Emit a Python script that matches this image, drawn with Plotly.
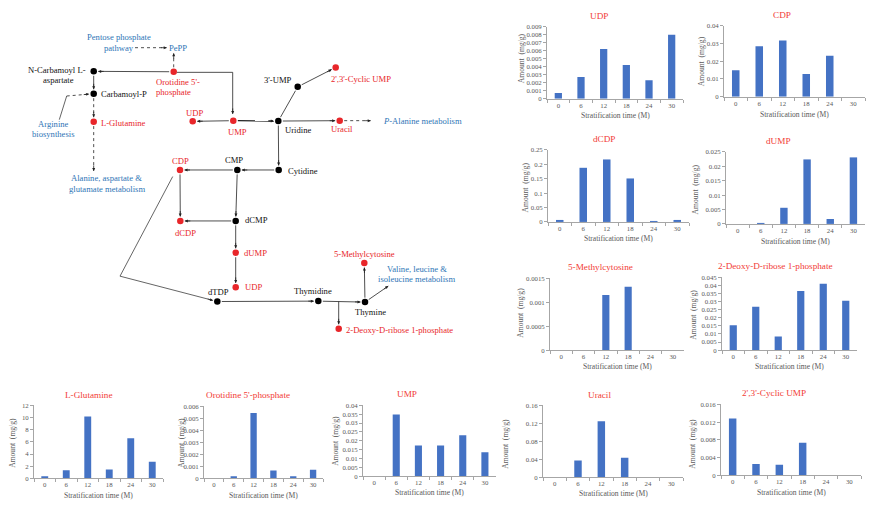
import math
import plotly.graph_objects as go

W, H = 881, 505
FONT = "Liberation Serif"
RED = "#E8262A"
TITLE_RED = "#F23B36"
BLUE = "#2E75B6"
BAR = "#4472C4"
GREY = "#595959"
AXIS = "#A6A6A6"

# ---------------- data ----------------
months = ["0", "6", "12", "18", "24", "30"]

udp = [0.0007, 0.0027, 0.0062, 0.0042, 0.0023, 0.0080]
cdp = [0.0149, 0.0284, 0.0316, 0.0128, 0.0231, 0.0]
dcdp = [0.0057, 0.188, 0.217, 0.151, 0.0023, 0.0057]
dump = [0.0, 0.0003, 0.0056, 0.0224, 0.0017, 0.0231]
methylcytosine = [0.0, 0.0, 0.00115, 0.00132, 0.0, 0.0]
deoxyribose_p = [0.0153, 0.0268, 0.0084, 0.0364, 0.0409, 0.0305]
glutamine = [0.27, 1.31, 10.15, 1.47, 6.6, 2.73]
orotidine_p = [0.0, 0.00011, 0.00544, 0.00066, 0.0001, 0.00072]
ump = [0.0, 0.0349, 0.0174, 0.0174, 0.0231, 0.0136]
uracil = [0.0, 0.0374, 0.1248, 0.0433, 0.0, 0.0]
cyclic_ump = [0.01284, 0.00257, 0.00242, 0.00734, 0.0, 0.0]

ticks_udp = ["0", "0.001", "0.002", "0.003", "0.004", "0.005", "0.006", "0.007", "0.008", "0.009"]
ticks_cdp = ["0", "0.01", "0.02", "0.03", "0.04"]
ticks_dcdp = ["0", "0.05", "0.1", "0.15", "0.2", "0.25"]
ticks_dump = ["0", "0.005", "0.01", "0.015", "0.02", "0.025"]
ticks_methyl = ["0", "0.0005", "0.001", "0.0015"]
ticks_deoxy = ["0", "0.005", "0.01", "0.015", "0.02", "0.025", "0.03", "0.035", "0.04", "0.045"]
ticks_glu = ["0", "2", "4", "6", "8", "10", "12"]
ticks_orot = ["0", "0.001", "0.002", "0.003", "0.004", "0.005", "0.006"]
ticks_ump = ["0", "0.005", "0.01", "0.015", "0.02", "0.025", "0.03", "0.035", "0.04"]
ticks_uracil = ["0", "0.04", "0.08", "0.12", "0.16"]
ticks_cyclic = ["0", "0.004", "0.008", "0.012", "0.016"]

chart_titles = ["UDP", "CDP", "dCDP", "dUMP", "5-Methylcytosine",
                "2-Deoxy-D-ribose 1-phosphate", "L-Glutamine",
                "Orotidine 5'-phosphate", "UMP", "Uracil", "2',3'-Cyclic UMP"]
chart_values = [udp, cdp, dcdp, dump, methylcytosine, deoxyribose_p,
                glutamine, orotidine_p, ump, uracil, cyclic_ump]
chart_ticks = [ticks_udp, ticks_cdp, ticks_dcdp, ticks_dump, ticks_methyl,
               ticks_deoxy, ticks_glu, ticks_orot, ticks_ump, ticks_uracil,
               ticks_cyclic]

# ---------------- layout (pixels) ----------------
# plot box: left, right, top, bottom(zero line)
boxes = [(547, 683, 23, 96), (724, 865, 22, 94), (548, 689, 148, 221),
         (726, 865, 150, 223), (550, 684, 278, 351), (722, 857, 277, 351),
         (34, 163, 407, 481), (204, 323, 408, 481), (363, 496, 407, 479),
         (543, 683, 407, 480), (721, 861, 406, 478)]
title_pos = [(599, 12), (782, 11), (604, 137), (778, 139), (600, 267),
             (775, 266), (88, 397), (248, 397), (407, 395), (599, 397),
             (774, 394)]
ytitle_pos = [(521, 55), (701, 58), (525, 186), (695, 188), (521, 313),
              (694, 315), (13, 445), (182, 445), (336, 443), (506, 446),
              (693, 446)]
xtitle_y = [113, 112, 238, 241, 368, 368, 498, 498, 495, 496, 495]

# ---------------- pathway diagram ----------------
node_names = ["ncarb", "carbp", "lglu", "orot", "udp1", "ump", "urid", "ump3",
              "cyc", "urac", "cytd", "cmp", "cdp", "dcdp", "dcmp", "dump",
              "udp2", "dtdp", "thyd", "thy", "meth", "deoxy"]
node_x = [93.7, 93.7, 93.7, 173.7, 192.7, 233.3, 278.3, 297.7,
          335.7, 339.7, 278.7, 237.3, 180.0, 180.3, 235.7, 235.7,
          235.7, 217.3, 318.3, 365.0, 364.3, 338.7]
node_y = [68.3, 91.0, 119.3, 68.7, 119.0, 118.3, 118.7, 84.0,
          64.3, 118.3, 168.3, 168.3, 168.3, 220.0, 220.0, 252.3,
          287.3, 301.7, 301.3, 302.3, 262.7, 329.3]
node_is_red = [False, False, True, True, True, True, False, False,
               True, True, False, False, True, True, False, True,
               True, False, False, False, True, True]

label_text = ["N-Carbamoyl L-", "aspartate", "Carbamoyl-P", "L-Glutamine",
              "Orotidine 5'-", "phosphate", "PePP", "Pentose phosphate",
              "pathway", "Arginine", "biosynthesis", "Alanine, aspartate &",
              "glutamate metabolism", "UDP", "UMP", "Uridine", "3'-UMP",
              "2',3'-Cyclic UMP", "Uracil", "<i>P</i>-Alanine metabolism",
              "Cytidine", "CMP", "CDP", "dCDP", "dCMP", "dUMP", "UDP", "dTDP",
              "Thymidine", "Thymine", "5-Methylcytosine", "Valine, leucine &",
              "isoleucine metabolism", "2-Deoxy-D-ribose 1-phosphate"]
label_x = [87.5, 58.5, 99, 99, 154, 154, 177.7, 119, 119, 53.3, 53.3, 106.7,
           106.7, 194.7, 237.3, 282.7, 278.3, 329.3, 341.7, 380.7, 285.7, 234,
           180, 185, 242.7, 241.7, 242.7, 218.3, 312.7, 370, 364.3, 416.7,
           416.7, 344.3]
label_y = [67, 77.5, 91, 121, 79, 89.7, 44.3, 33.3, 44.3, 121.7, 132.3,
           176.7, 187.3, 110.7, 130, 127.7, 77, 75.7, 127, 119, 169, 158.3,
           158.7, 232.3, 219.3, 252.7, 287.3, 292.3, 291.3, 312.3, 253.7,
           268.7, 279, 330.3]
label_kind = ["k", "k", "k", "r", "r", "r", "b", "b", "b", "b", "b", "b", "b",
              "r", "r", "k", "k", "r", "r", "b", "k", "k", "r", "r", "k", "r",
              "r", "k", "k", "k", "r", "b", "b", "r"]
label_anchor = ["right", "center", "left", "left", "left", "left", "center",
                "center", "center", "center", "center", "center", "center",
                "center", "center", "left", "center", "left", "center", "left",
                "left", "center", "center", "center", "left", "left", "left",
                "center", "center", "center", "center", "center", "center",
                "left"]

# edges: path (node names or waypoints), dotted, arrow head, line width
edges = [
    ([(135, 44.3), (166.7, 44.3)], True, True, 0.8),
    (["orot", (173.7, 50)], True, True, 0.8),
    (["orot", "ncarb"], False, True, 0.8),
    (["ncarb", "carbp"], False, True, 0.8),
    (["carbp", "lglu"], True, True, 0.8),
    (["lglu", (93.7, 169.3)], True, True, 0.8),
    ([(59.3, 117.3), (66.7, 93.3)], False, False, 0.7),
    ([(66.7, 93.3), "carbp"], True, True, 0.8),
    ([(176.7, 69.3), (232.7, 69.3), (232.7, 111.5)], False, True, 0.8),
    (["ump", "udp1"], False, True, 0.8),
    (["ump", "urid"], False, True, 1.3),
    (["urid", "ump3"], False, False, 0.8),
    (["ump3", "cyc"], False, True, 0.8),
    (["urid", "urac"], False, True, 0.8),
    (["urac", (370.7, 118.3)], True, True, 0.8),
    (["urid", "cytd"], False, True, 0.8),
    (["cytd", "cmp"], False, True, 0.8),
    (["cmp", "cdp"], False, True, 0.8),
    (["cdp", "dcdp"], False, True, 0.8),
    (["cmp", "dcmp"], False, True, 0.8),
    (["dcmp", "dcdp"], False, True, 0.8),
    (["dcmp", "dump"], False, True, 0.8),
    (["dump", "udp2"], False, True, 0.8),
    ([(172.7, 175), (120, 276), "dtdp"], False, True, 0.7),
    (["dtdp", "thyd"], False, True, 0.8),
    (["thyd", "thy"], False, True, 0.8),
    ([(338.7, 301.7), "deoxy"], False, True, 0.8),
    (["thy", "meth"], False, True, 0.8),
    (["thy", (388.3, 286)], False, True, 0.8),
]

GAP = 4.5
colors = {"k": "#111111", "r": RED, "b": BLUE}


def pos(p):
    if isinstance(p, str):
        i = node_names.index(p)
        return (node_x[i], node_y[i])
    return p


def shorten(a, b, g):
    dx, dy = b[0] - a[0], b[1] - a[1]
    d = math.hypot(dx, dy)
    return (a[0] + dx / d * g, a[1] + dy / d * g)


fig = go.Figure()
annotations = []
layout_axes = {}

# ---- bar charts ----
for k in range(len(chart_titles)):
    n = k + 1
    xa, ya = f"x{n}", f"y{n}"
    l, r, t, b = boxes[k]
    fig.add_trace(go.Bar(x=months, y=chart_values[k], xaxis=xa, yaxis=ya,
                         marker=dict(color=BAR, line=dict(width=0)),
                         width=0.32, hoverinfo="x+y"))
    tv = [float(s) for s in chart_ticks[k]]
    layout_axes[f"xaxis{n}"] = dict(
        domain=[l / W, r / W], anchor=ya, type="category",
        categoryorder="array", categoryarray=months, range=[-0.5, 5.5],
        showline=True, linecolor=AXIS, linewidth=0.8, ticks="outside",
        ticklen=3, tickcolor=AXIS, tickwidth=0.8, tickson="boundaries",
        showgrid=False, zeroline=False, fixedrange=True,
        tickfont=dict(family=FONT, size=6.8, color=GREY))
    layout_axes[f"yaxis{n}"] = dict(
        domain=[1 - b / H, 1 - t / H], anchor=xa, range=[0, tv[-1]],
        tickvals=tv, ticktext=chart_ticks[k], showline=True, linecolor=AXIS,
        linewidth=0.8, ticks="outside", ticklen=3, tickcolor=AXIS,
        tickwidth=0.8, showgrid=False, zeroline=False, fixedrange=True,
        tickfont=dict(family=FONT, size=6.8, color=GREY))
    tx, ty = title_pos[k]
    annotations.append(dict(text=chart_titles[k], x=tx / W, y=1 - ty / H,
                            xref="paper", yref="paper", showarrow=False,
                            xanchor="center", yanchor="middle",
                            font=dict(family=FONT, size=9.2, color=TITLE_RED)))
    yx, yy = ytitle_pos[k]
    annotations.append(dict(text="Amount\u00a0\u00a0(mg/g)", x=yx / W,
                            y=1 - yy / H, xref="paper", yref="paper",
                            showarrow=False, textangle=-90, xanchor="center",
                            yanchor="middle",
                            font=dict(family=FONT, size=7.6, color=GREY)))
    annotations.append(dict(text="Stratification time (M)",
                            x=(l + r) / 2 / W, y=1 - xtitle_y[k] / H,
                            xref="paper", yref="paper", showarrow=False,
                            xanchor="center", yanchor="middle",
                            font=dict(family=FONT, size=7.6, color=GREY)))

# ---- pathway diagram (axis in pixel units) ----
DX, DY = 480, 380
layout_axes["xaxis12"] = dict(domain=[0, DX / W], range=[0, DX], visible=False,
                              anchor="y12", fixedrange=True)
layout_axes["yaxis12"] = dict(domain=[1 - DY / H, 1], range=[DY, 0],
                              visible=False, anchor="x12", fixedrange=True)

for path, dotted, head, lw in edges:
    pts = [pos(p) for p in path]
    if isinstance(path[0], str):
        pts[0] = shorten(pts[0], pts[1], GAP)
    if isinstance(path[-1], str):
        pts[-1] = shorten(pts[-1], pts[-2], GAP)
    fig.add_trace(go.Scatter(
        x=[p[0] for p in pts], y=[p[1] for p in pts], xaxis="x12",
        yaxis="y12", mode="lines", hoverinfo="skip", cliponaxis=False,
        line=dict(color="#222222", width=lw, dash="dot" if dotted else "solid")))
    if head:
        tip, prev = pts[-1], pts[-2]
        dx, dy = tip[0] - prev[0], tip[1] - prev[1]
        d = math.hypot(dx, dy)
        L = min(7.0, d)
        annotations.append(dict(
            x=tip[0], y=tip[1], xref="x12", yref="y12", text="",
            showarrow=True, ax=-dx / d * L, ay=-dy / d * L, arrowhead=2,
            arrowsize=0.75 * 0.8 / lw, arrowwidth=lw, arrowcolor="#222222",
            standoff=0, font=dict(size=1)))

fig.add_trace(go.Scatter(
    x=node_x, y=node_y, xaxis="x12", yaxis="y12", mode="markers",
    hovertext=node_names, hoverinfo="text", cliponaxis=False,
    marker=dict(size=6.5, color=[RED if r else "#000000" for r in node_is_red],
                line=dict(width=0))))

for txt, x, y, kind, anc in zip(label_text, label_x, label_y, label_kind,
                                label_anchor):
    annotations.append(dict(text=txt, x=x, y=y, xref="x12", yref="y12",
                            showarrow=False, xanchor=anc, yanchor="middle",
                            font=dict(family=FONT, size=8.6,
                                      color=colors[kind])))

fig.update_layout(
    width=W, height=H, margin=dict(l=0, r=0, t=0, b=0, pad=0),
    paper_bgcolor="white", plot_bgcolor="rgba(0,0,0,0)", showlegend=False,
    bargap=0.68, annotations=annotations, font=dict(family=FONT), **layout_axes)

fig.write_html("out.html", config={"displayModeBar": False},
               post_script="document.body.style.margin='0';")
